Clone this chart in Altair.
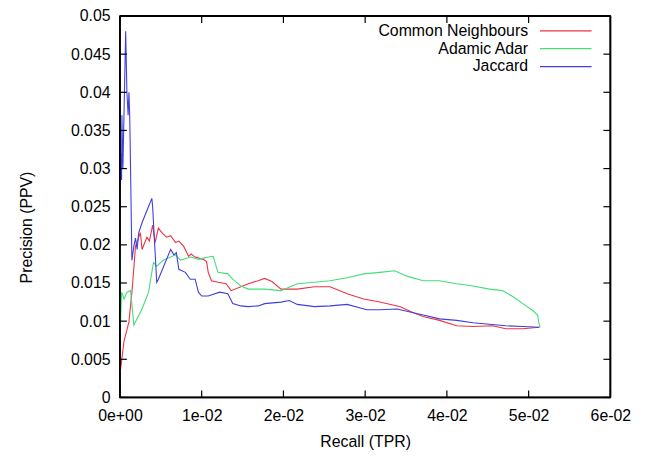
import altair as alt
import pandas as pd

series_names = ["Common Neighbours", "Adamic Adar", "Jaccard"]
series_colors = ["#ee3344", "#44dd77", "#3f3fdd"]

cn_recall = [0, 0.0005, 0.0011, 0.0015, 0.0019, 0.0025, 0.0027, 0.0033, 0.0036, 0.0040, 0.0043, 0.0047,
             0.0052, 0.0057, 0.0062, 0.0068, 0.0072, 0.0078, 0.0084, 0.0087, 0.0092, 0.0102, 0.0106,
             0.0108, 0.0112, 0.0120, 0.0130, 0.0136, 0.0148, 0.0157, 0.0169, 0.0177, 0.0186, 0.0197,
             0.0217, 0.0238, 0.0257, 0.0278, 0.0298, 0.0318, 0.0343, 0.0359, 0.0371, 0.0391, 0.0412,
             0.0432, 0.0456, 0.0472, 0.0493, 0.0513]
cn_precision = [0.003, 0.0074, 0.0099, 0.0142, 0.0198, 0.0216, 0.0194, 0.0210, 0.0205, 0.0226, 0.0203, 0.0222,
                0.0215, 0.0210, 0.0212, 0.0203, 0.0205, 0.0198, 0.0185, 0.0188, 0.0184, 0.0181, 0.0178,
                0.0164, 0.0153, 0.0151, 0.0149, 0.0140, 0.0145, 0.0149, 0.0153, 0.0156, 0.0152, 0.0142,
                0.0142, 0.0145, 0.0145, 0.0136, 0.0129, 0.0125, 0.0119, 0.0111, 0.0106, 0.0101, 0.0094,
                0.0093, 0.0094, 0.0090, 0.0090, 0.0092]

aa_recall = [0, 0.00006, 0.0002, 0.0005, 0.00085, 0.0013, 0.0017, 0.0027, 0.0035, 0.0041, 0.0045, 0.0053,
             0.0068, 0.0074, 0.0087, 0.0096, 0.0108, 0.0114, 0.0120, 0.0132, 0.0138, 0.0148, 0.0157,
             0.0177, 0.0197, 0.0217, 0.0238, 0.0257, 0.0278, 0.0298, 0.0318, 0.0336, 0.0351, 0.0371,
             0.0391, 0.0412, 0.0432, 0.0452, 0.0468, 0.0481, 0.0493, 0.0505, 0.0511, 0.0513, 0.0514]
aa_precision = [0.0200, 0.0095, 0.0138, 0.0129, 0.0138, 0.0140, 0.0095, 0.0116, 0.0138, 0.0177, 0.0172, 0.0180,
                0.0187, 0.0180, 0.0184, 0.0181, 0.0184, 0.0185, 0.0164, 0.0162, 0.0155, 0.0146, 0.0142,
                0.0142, 0.0140, 0.0149, 0.0151, 0.0153, 0.0157, 0.0162, 0.0164, 0.0166, 0.0159, 0.0153,
                0.0153, 0.0149, 0.0146, 0.0142, 0.0140, 0.0132, 0.0123, 0.0114, 0.0108, 0.0095, 0.0092]

ja_recall = [0, 0.00004, 0.00007, 0.00012, 0.0002, 0.00024, 0.00036, 0.0007, 0.00085, 0.0010, 0.0011, 0.0012,
             0.0013, 0.00146, 0.0017, 0.0019, 0.0021, 0.0023, 0.0027, 0.0033, 0.0039, 0.0040, 0.0045,
             0.0047, 0.0062, 0.0066, 0.0069, 0.0072, 0.0080, 0.0086, 0.0092, 0.0096, 0.0100, 0.0108,
             0.0122, 0.0132, 0.0138, 0.0148, 0.0157, 0.0169, 0.0177, 0.0197, 0.0207, 0.0217, 0.0238,
             0.0257, 0.0278, 0.0302, 0.0318, 0.0339, 0.0359, 0.0371, 0.0391, 0.0412, 0.0432, 0.0452,
             0.0472, 0.0493, 0.0513]
ja_precision = [0.0275, 0.0390, 0.0280, 0.0320, 0.0285, 0.0370, 0.0300, 0.0480, 0.0400, 0.0370, 0.0400, 0.0366,
                0.0297, 0.0180, 0.0198, 0.0209, 0.0194, 0.0216, 0.0229, 0.0245, 0.0261, 0.0250, 0.0151,
                0.0155, 0.0194, 0.0187, 0.0190, 0.0168, 0.0164, 0.0155, 0.0155, 0.0138, 0.0133, 0.0133,
                0.0138, 0.0136, 0.0123, 0.0120, 0.0119, 0.0120, 0.0123, 0.0125, 0.0127, 0.0122, 0.0119,
                0.0120, 0.0122, 0.0115, 0.0115, 0.0116, 0.0111, 0.0108, 0.0103, 0.0101, 0.0098, 0.0096,
                0.0094, 0.0093, 0.0092]

x_ticks = [0, 0.01, 0.02, 0.03, 0.04, 0.05, 0.06]
x_tick_labels = ["0e+00", "1e-02", "2e-02", "3e-02", "4e-02", "5e-02", "6e-02"]
y_ticks = [0, 0.005, 0.01, 0.015, 0.02, 0.025, 0.03, 0.035, 0.04, 0.045, 0.05]
x_limits = [0, 0.06]
y_limits = [0, 0.05]

rows = []
for name, xs, ys in zip(series_names, [cn_recall, aa_recall, ja_recall],
                        [cn_precision, aa_precision, ja_precision]):
    for i, (a, b) in enumerate(zip(xs, ys)):
        rows.append({"method": name, "recall": a, "precision": b, "idx": i})
df = pd.DataFrame(rows)

W, H = 495, 385
FONT = "Liberation Sans"
FS = 16
TL = 7

label_expr = ""
for v, l in zip(x_ticks, x_tick_labels):
    label_expr += f"abs(datum.value - {v}) < 1e-9 ? '{l}' : "
label_expr += "''"

xscale = alt.Scale(domain=x_limits, nice=False, zero=False)
yscale = alt.Scale(domain=y_limits, nice=False, zero=False)
cscale = alt.Scale(domain=series_names, range=series_colors)

x_axis = alt.Axis(title="Recall (TPR)", values=x_ticks, labelExpr=label_expr,
                  ticks=False, tickSize=0, domain=False, grid=False, labelFlush=False,
                  labelOverlap=False,
                  labelPadding=10, titleY=45, titleBaseline="middle",
                  labelFont=FONT, labelFontSize=FS, labelColor="black",
                  titleFont=FONT, titleFontSize=FS, titleColor="black", titleFontWeight="normal")
y_axis = alt.Axis(title="Precision (PPV)", values=y_ticks, format=".3~f",
                  ticks=False, tickSize=0, domain=False, grid=False, labelFlush=False,
                  labelOverlap=False,
                  labelPadding=10, titleX=-94, titleY=213, titleBaseline="middle",
                  labelFont=FONT, labelFontSize=FS, labelColor="black",
                  titleFont=FONT, titleFontSize=FS, titleColor="black", titleFontWeight="normal")

lines = alt.Chart(df).mark_line(strokeWidth=1.1).encode(
    x=alt.X("recall:Q", scale=xscale, axis=x_axis),
    y=alt.Y("precision:Q", scale=yscale, axis=y_axis),
    color=alt.Color("method:N", scale=cscale, legend=None),
    order="idx:Q",
)

xt = pd.DataFrame({"v": x_ticks})
yt = pd.DataFrame({"v": y_ticks})
xl = pd.DataFrame({"v": x_limits})
yl = pd.DataFrame({"v": y_limits})
tick_style = dict(color="black", strokeWidth=1.2)
frame_style = dict(color="black", strokeWidth=1.8)

# plot frame: vertical rules at the x limits, horizontal rules at the y limits
frame_v = alt.Chart(xl).mark_rule(**frame_style).encode(
    x=alt.X("v:Q", scale=xscale, axis=x_axis), y=alt.value(0), y2=alt.value(H))
frame_h = alt.Chart(yl).mark_rule(**frame_style).encode(
    y=alt.Y("v:Q", scale=yscale, axis=y_axis), x=alt.value(0), x2=alt.value(W))

bottom = alt.Chart(xt).mark_rule(**tick_style).encode(
    x=alt.X("v:Q", scale=xscale, axis=x_axis), y=alt.value(H), y2=alt.value(H - TL))
top = alt.Chart(xt).mark_rule(**tick_style).encode(
    x=alt.X("v:Q", scale=xscale, axis=x_axis), y=alt.value(0), y2=alt.value(TL))
left = alt.Chart(yt).mark_rule(**tick_style).encode(
    y=alt.Y("v:Q", scale=yscale, axis=y_axis), x=alt.value(0), x2=alt.value(TL))
right = alt.Chart(yt).mark_rule(**tick_style).encode(
    y=alt.Y("v:Q", scale=yscale, axis=y_axis), x=alt.value(W - TL), x2=alt.value(W))

# legend (gnuplot style: label left of line sample)
legend_layers = []
for i, name in enumerate(series_names):
    ldf = pd.DataFrame({"method": [name]})
    ry = 15 + 18 * i
    legend_layers.append(
        alt.Chart(ldf).mark_text(align="right", baseline="middle", font=FONT, fontSize=FS,
                                 color="black").encode(
            text="method:N", x=alt.value(412), y=alt.value(ry)))
    legend_layers.append(
        alt.Chart(ldf).mark_rule(strokeWidth=1.2).encode(
            color=alt.Color("method:N", scale=cscale, legend=None),
            x=alt.value(424), x2=alt.value(476), y=alt.value(ry)))

chart = alt.layer(lines, frame_v, frame_h, bottom, top, left, right, *legend_layers).properties(
    width=W, height=H,
    background="white",
    autosize=alt.AutoSizeParams(type="none"),
    padding={"left": 113, "top": 6, "right": 40, "bottom": 55},
).configure_view(stroke="black", strokeWidth=1.5)

chart.save("out.html", embed_options={"renderer": "svg", "actions": False})
